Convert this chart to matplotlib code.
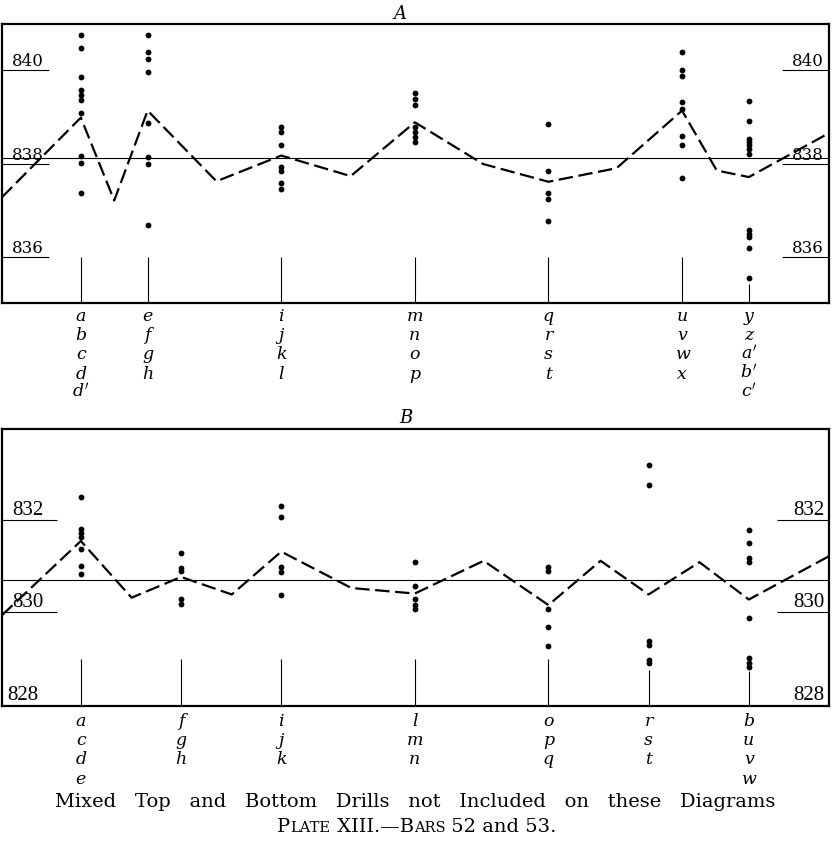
import matplotlib
import matplotlib.pyplot as plt

matplotlib.use('Agg')
plt.rcParams['font.family'] = ['DejaVu Serif', 'DejaVu Sans']
plt.rcParams['mathtext.fontset'] = 'dejavuserif'

# ---- panel A (bar 52) ----
a_cols = [1, 2, 4, 6, 8, 10, 11]
a_letters = [["a", "b", "c", "d", "d'"], ["e", "f", "g", "h"], ["i", "j", "k", "l"],
             ["m", "n", "o", "p"], ["q", "r", "s", "t"], ["u", "v", "w", "x"],
             ["y", "z", "a'", "b'", "c'"]]
a_dots = [
    [840.75, 840.47, 839.85, 839.58, 839.47, 839.35, 839.08, 838.17, 838.01, 837.36],
    [840.75, 840.38, 840.24, 839.95, 838.86, 838.13, 837.98, 836.69],
    [838.79, 838.67, 838.39, 837.92, 837.84, 837.58, 837.46],
    [839.50, 839.38, 839.26, 838.78, 838.67, 838.56, 838.46],
    [838.85, 837.84, 837.36, 837.24, 836.78],
    [840.38, 839.99, 839.86, 839.31, 839.17, 838.58, 838.39, 837.69],
    [839.33, 838.90, 838.53, 838.46, 838.39, 838.30, 838.21, 836.57, 836.50, 836.42, 836.20, 835.56],
]
a_stem_top = [836, 836, 836, 836, 836, 836, 835.43]
a_line_x = [-0.18, 1, 1.5, 2, 3.03, 4, 5.04, 6, 7.02, 8, 9.02, 10, 10.52, 11, 12.2]
a_line_y = [837.28, 838.98, 837.21, 839.13, 837.62, 838.17, 837.73, 838.88, 837.99,
            837.61, 837.90, 839.13, 837.85, 837.71, 838.65]
a_mean = 838.12
a_ticks = [840, 838, 836]

# ---- panel B (bar 53) ----
b_cols = [1, 2.5, 4, 6, 8, 9.5, 11]
b_letters = [["a", "c", "d", "e"], ["f", "g", "h"], ["i", "j", "k"], ["l", "m", "n"],
             ["o", "p", "q"], ["r", "s", "t"], ["b", "u", "v", "w"]]
b_dots = [
    [832.51, 831.82, 831.73, 831.64, 831.38, 831.00, 830.84],
    [831.28, 830.96, 830.89, 830.30, 830.19],
    [832.31, 832.06, 830.98, 830.88, 830.37],
    [831.09, 830.57, 830.29, 830.16, 830.07],
    [830.98, 830.89, 830.07, 829.69, 829.28],
    [833.20, 832.77, 829.37, 829.30, 828.97, 828.90],
    [831.78, 831.50, 831.18, 831.09, 829.89, 829.01, 828.90, 828.82],
]
b_stem_top = [829.0, 829.0, 829.0, 829.0, 829.0, 828.75, 828.73]
b_line_x = [-0.18, 1, 1.76, 2.5, 3.26, 4, 5.05, 6, 7.03, 8, 8.78, 9.5, 10.26, 11, 12.2]
b_line_y = [829.94, 831.55, 830.32, 830.77, 830.39, 831.32, 830.53, 830.41, 831.12,
            830.16, 831.12, 830.39, 831.09, 830.28, 831.22]
b_mean = 830.71
b_ticks = [832, 830]

fig = plt.figure(figsize=(8.32, 8.41), dpi=100)
ax_a = fig.add_axes([2 / 832, (841 - 303) / 841, 827 / 832, 279 / 841])
ax_b = fig.add_axes([2 / 832, (841 - 706) / 841, 827 / 832, 277 / 841])


def draw_panel(ax, ylim, mean, line_x, line_y, cols, dots, stem_top, letters, base0):
    ax.set_xlim(-0.18, 12.2)
    ax.set_ylim(ylim)
    ax.set_xticks([])
    ax.set_yticks([])
    for s in ax.spines.values():
        s.set_linewidth(1.6)
    ax.axhline(mean, color='black', lw=0.8)
    ax.plot(line_x, line_y, color='black', lw=1.6, dashes=(6.5, 2.5))
    for x, ys, top, labs in zip(cols, dots, stem_top, letters):
        ax.plot([x] * len(ys), ys, 'o', color='black', ms=4.2, mec='none')
        ax.vlines(x, ylim[0], top, color='black', lw=0.8)
        for i, lab in enumerate(labs):
            # primed letters through mathtext so the prime stands clear
            txt = f"${lab}$" if "'" in lab else lab
            ax.annotate(txt, xy=(x, ylim[0]), xycoords='data',
                        xytext=(0, -(base0 + i * 19.2) * 0.72), textcoords='offset points',
                        ha='center', va='baseline', fontsize=12.5, style='italic',
                        annotation_clip=False)


def tick_label(ax, val, font, size, left_end, right_start, underline=True, lx=0.012):
    tr = ax.get_yaxis_transform()
    ax.text(lx, val, str(val), transform=tr, ha='left', va='bottom',
            fontsize=size, family=font)
    ax.text(0.994, val, str(val), transform=tr, ha='right', va='bottom',
            fontsize=size, family=font)
    if underline:
        ax.hlines(val, 0, left_end, transform=tr, color='black', lw=0.8)
        ax.hlines(val, right_start, 1, transform=tr, color='black', lw=0.8)


draw_panel(ax_a, (835.02, 840.98), a_mean, a_line_x, a_line_y, a_cols, a_dots,
           a_stem_top, a_letters, 18)
for v in a_ticks:
    tick_label(ax_a, v, 'DejaVu Serif', 12, 0.057, 0.943)

draw_panel(ax_b, (827.97, 833.98), b_mean, b_line_x, b_line_y, b_cols, b_dots,
           b_stem_top, b_letters, 20)
for v in b_ticks:
    tick_label(ax_b, v, 'Liberation Serif', 15, 0.066, 0.937)
tick_label(ax_b, 828, 'Liberation Serif', 15, 0, 1, underline=False, lx=0.006)

fig.text(400 / 832, (841 - 19) / 841, "A", ha='center', va='baseline',
         fontsize=13, style='italic')
fig.text(406 / 832, (841 - 423) / 841, "B", ha='center', va='baseline',
         fontsize=13, style='italic')

fig.text(415 / 832, (841 - 807) / 841,
         "Mixed   Top   and   Bottom   Drills   not   Included   on   these   Diagrams",
         ha='center', va='baseline', fontsize=14)

# small-caps plate line, pieced together and centred
pieces = [("P", 14), ("LATE", 10.5), (" XIII.—B", 14), ("ARS", 10.5), (" 52 and 53.", 14)]
renderer = fig.canvas.get_renderer()
texts = []
x_px = 0
for s, size in pieces:
    t = fig.text(0, (841 - 832) / 841, s, ha='left', va='baseline', fontsize=size)
    w = t.get_window_extent(renderer).width
    texts.append((t, x_px))
    x_px += w
start = 417 - x_px / 2
for t, off in texts:
    t.set_x((start + off) / 832)

fig.savefig('out.png', dpi=100)
